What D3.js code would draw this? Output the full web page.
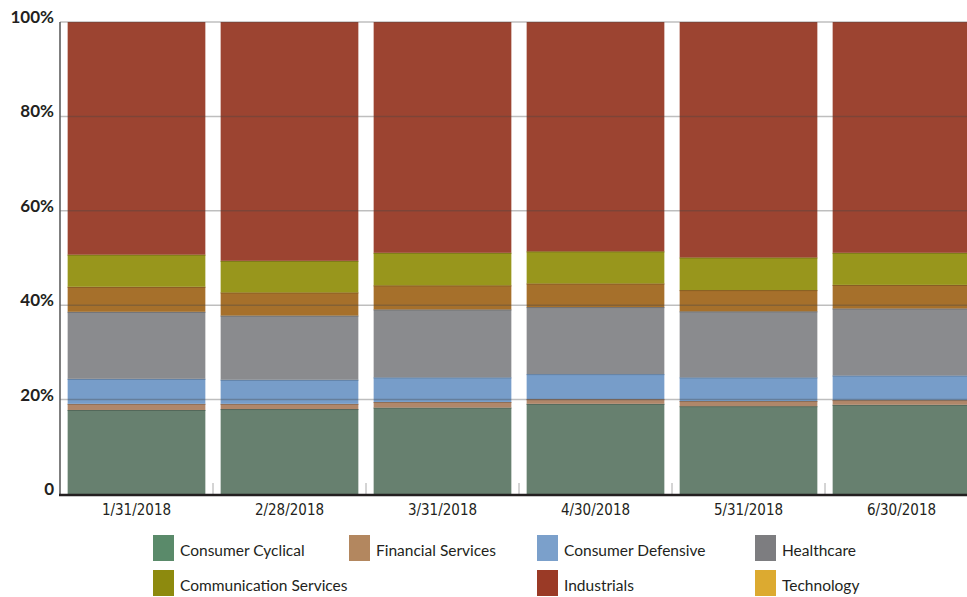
<!DOCTYPE html>
<html>
<head>
<meta charset="utf-8">
<script src="https://cdn.jsdelivr.net/npm/d3@7"></script>
<style>
  body { margin: 0; background: #fff; }
  svg { display: block; }
</style>
</head>
<body>
<script>
(function() {
    'use strict';

    var dates = ['1/31/2018', '2/28/2018', '3/31/2018', '4/30/2018', '5/31/2018', '6/30/2018'];
    var sectors = ['Consumer Cyclical', 'Financial Services', 'Consumer Defensive', 'Healthcare',
        'Technology', 'Communication Services', 'Industrials'];
    var legendOrder = ['Consumer Cyclical', 'Financial Services', 'Consumer Defensive', 'Healthcare',
        'Communication Services', 'Industrials', 'Technology'];

    // percent of portfolio per sector, one value per date
    var consumerCyclical = [17.8, 18.0, 18.3, 19.1, 18.6, 18.9];
    var financialServices = [1.3, 1.1, 1.2, 1.0, 1.1, 1.0];
    var consumerDefensive = [5.3, 5.1, 5.2, 5.3, 5.0, 5.2];
    var healthcare = [14.2, 13.6, 14.4, 14.2, 14.0, 14.2];
    var technology = [5.3, 4.9, 5.1, 5.0, 4.5, 5.0];
    var communicationServices = [6.8, 6.7, 6.9, 6.8, 6.9, 6.8];
    var industrials = [49.3, 50.6, 48.9, 48.6, 49.9, 48.9];

    var yTicks = [0, 20, 40, 60, 80, 100];
    var yTickLabels = ['0', '20%', '40%', '60%', '80%', '100%'];

    var barColors = {
        'Consumer Cyclical': '#67806f',
        'Financial Services': '#b0876a',
        'Consumer Defensive': '#779dc9',
        'Healthcare': '#8a8b8e',
        'Technology': '#a6702b',
        'Communication Services': '#98961c',
        'Industrials': '#9c4431'
    };
    var legendColors = {
        'Consumer Cyclical': '#5a8a6a',
        'Financial Services': '#b3875f',
        'Consumer Defensive': '#7ba0cb',
        'Healthcare': '#7d7d80',
        'Technology': '#dcaa30',
        'Communication Services': '#8d8a0e',
        'Industrials': '#9a3a26'
    };

    var seriesValues = [consumerCyclical, financialServices, consumerDefensive, healthcare,
        technology, communicationServices, industrials];

    var rows = dates.map(function(d, i) {
        var row = { date: d };
        sectors.forEach(function(s, k) { row[s] = seriesValues[k][i]; });
        return row;
    });

    var width = 967, height = 597;
    var margin = { left: 60, top: 22, bottom: 494 };

    var svg = d3.select('body').append('svg')
        .attr('width', width)
        .attr('height', height);

    var x = d3.scaleBand()
        .domain(dates)
        .range([margin.left, 978])
        .paddingInner(0.1)
        .paddingOuter(0.05);

    var y = d3.scaleLinear()
        .domain([0, 100])
        .range([margin.bottom, margin.top]);

    var stacked = d3.stack().keys(sectors)(rows);

    var layers = svg.append('g').selectAll('g')
        .data(stacked)
        .enter().append('g')
        .attr('fill', function(d) { return barColors[d.key]; });

    layers.selectAll('rect')
        .data(function(d) { return d; })
        .enter().append('rect')
        .attr('x', function(d) { return x(d.data.date); })
        .attr('y', function(d) { return y(d[1]); })
        .attr('width', x.bandwidth())
        .attr('height', function(d) { return y(d[0]) - y(d[1]); });

    // thin darker edge on top of each segment
    layers.each(function(layer) {
        if (layer.key === 'Industrials') return;
        d3.select(this).selectAll('line')
            .data(layer)
            .enter().append('line')
            .attr('x1', function(d) { return x(d.data.date); })
            .attr('x2', function(d) { return x(d.data.date) + x.bandwidth(); })
            .attr('y1', function(d) { return y(d[1]) + 0.5; })
            .attr('y2', function(d) { return y(d[1]) + 0.5; })
            .attr('stroke', d3.color(barColors[layer.key]).darker(0.6))
            .attr('stroke-width', 1);
    });

    // gridlines on top of bars
    svg.append('g').selectAll('line')
        .data(yTicks.slice(1))
        .enter().append('line')
        .attr('x1', margin.left)
        .attr('x2', width)
        .attr('y1', function(d) { return y(d); })
        .attr('y2', function(d) { return y(d); })
        .attr('stroke', 'rgba(70,70,70,0.35)')
        .attr('stroke-width', 1.5);

    // y labels
    svg.append('g').selectAll('text')
        .data(yTicks)
        .enter().append('text')
        .attr('x', 54)
        .attr('y', function(d) { return y(d) + 1; })
        .attr('text-anchor', 'end')
        .style('font-family', 'Lato, "Open Sans", sans-serif')
        .style('font-weight', 'bold')
        .style('font-size', '17px')
        .style('fill', '#231f20')
        .text(function(d, i) { return yTickLabels[i]; });

    // left axis line
    svg.append('line')
        .attr('x1', margin.left).attr('x2', margin.left)
        .attr('y1', margin.top).attr('y2', margin.bottom)
        .attr('stroke', '#555')
        .attr('stroke-width', 1.5);

    // tick marks between bars
    var boundaries = dates.slice(1).map(function(d) {
        return x(d) - x.step() * x.paddingInner() / 2;
    });
    svg.append('g').selectAll('line')
        .data(boundaries)
        .enter().append('line')
        .attr('x1', function(d) { return d; })
        .attr('x2', function(d) { return d; })
        .attr('y1', margin.bottom - 11)
        .attr('y2', margin.bottom)
        .attr('stroke', '#aaa')
        .attr('stroke-width', 1);

    // bottom axis line
    svg.append('line')
        .attr('x1', margin.left - 1).attr('x2', width)
        .attr('y1', margin.bottom + 1).attr('y2', margin.bottom + 1)
        .attr('stroke', '#231f20')
        .attr('stroke-width', 2.5);

    // x labels
    svg.append('g').selectAll('text')
        .data(dates)
        .enter().append('text')
        .attr('x', function(d) { return x(d) + x.bandwidth() / 2; })
        .attr('y', 515)
        .attr('text-anchor', 'middle')
        .style('font-family', '"Liberation Sans Narrow", "DejaVu Sans Condensed", sans-serif')
        .style('font-size', '15px')
        .style('fill', '#231f20')
        .text(function(d) { return d; });

    // legend, flowed into four columns
    var legendCols = [153, 349, 537, 755];
    var legendRowY = [535, 570];
    var legend = svg.append('g');
    var col = 0, row = 0;
    legendOrder.forEach(function(name) {
        var g = legend.append('g');
        var sx = legendCols[col];
        g.append('rect')
            .attr('x', sx)
            .attr('y', legendRowY[row])
            .attr('width', 21)
            .attr('height', 26)
            .attr('fill', legendColors[name]);
        var t = g.append('text')
            .attr('x', sx + 27)
            .attr('y', legendRowY[row] + 21)
            .style('font-family', 'Lato, "Open Sans", sans-serif')
            .style('font-size', '15.5px')
            .style('fill', '#231f20')
            .text(name);
        var end = sx + 27 + t.node().getComputedTextLength();
        col = legendCols.findIndex(function(c) { return c > end + 10; });
        if (col < 0) { col = 0; row += 1; }
    });

}());
</script>
</body>
</html>
